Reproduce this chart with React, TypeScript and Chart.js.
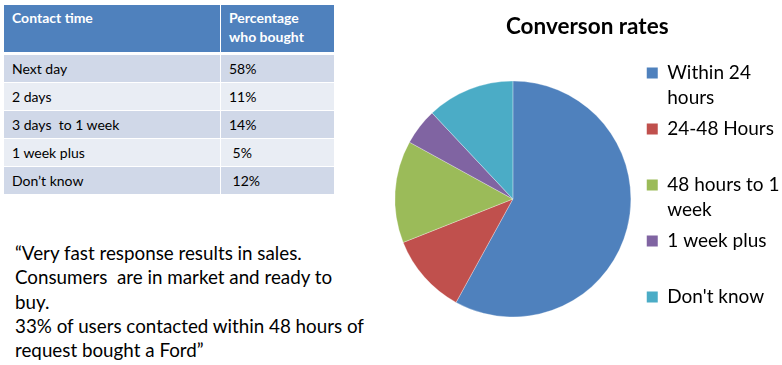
import React, { useEffect, useRef } from "react";
import { Chart, registerables } from "chart.js";

Chart.register(...registerables);

// ---- Data ----
const tableHeaderContact = "Contact time";
const tableHeaderPercent = ["Percentage", "who bought"];
const contactTimes = ["Next day", "2 days", "3 days  to 1 week", "1 week plus", "Don\u2019t know"];
const percentLabels = ["58%", "11%", "14%", " 5%", " 12%"];

const quoteLines = [
  "\u201CVery fast response results in sales.",
  "Consumers  are in market and ready to",
  "buy.",
  "33% of users contacted within 48 hours of",
  "request bought a Ford\u201D",
];

const chartTitle = "Converson rates";
const categories = [
  ["Within 24", "hours"],
  ["24-48 Hours", ""],
  ["48 hours to 1", "week"],
  ["1 week plus", ""],
  ["Don't know"],
];
const values = [58, 11, 14, 5, 12];
const colors = ["#4F81BD", "#C0504D", "#9BBB59", "#8064A2", "#4BACC6"];

const FONT = "Lato, 'Open Sans', sans-serif";

function PieChart() {
  const ref = useRef<HTMLCanvasElement | null>(null);
  useEffect(() => {
    if (!ref.current) return;
    const baseGen =
      ((Chart as any).overrides.pie?.plugins?.legend?.labels?.generateLabels) ||
      (Chart as any).overrides.doughnut.plugins.legend.labels.generateLabels;
    const chart = new Chart(ref.current, {
      type: "pie",
      data: {
        labels: categories as any,
        datasets: [
          {
            data: values,
            backgroundColor: colors,
            borderColor: "rgba(255,255,255,0.6)",
            borderWidth: 0.5,
            radius: 118,
          } as any,
        ],
      },
      options: {
        animation: false,
        responsive: false,
        events: [],
        layout: { padding: { left: 5, right: 0.5, top: 0, bottom: 24.5 } },
        plugins: {
          title: {
            display: true,
            text: chartTitle,
            color: "#000",
            font: { family: FONT, size: 22.5, weight: "bold", lineHeight: 1.2 },
            padding: { top: 13.5, bottom: 17 },
          },
          legend: {
            position: "right",
            align: "start",
            fullSize: false,
            labels: {
              boxWidth: 11,
              boxHeight: 11,
              padding: 6,
              color: "#000",
              font: { family: FONT, size: 19, lineHeight: 25 / 19 },
              generateLabels: (c: any) =>
                baseGen(c).map((it: any) => ({ ...it, lineWidth: 0, strokeStyle: "rgba(0,0,0,0)" })),
            },
          },
          tooltip: { enabled: false },
        },
      } as any,
    });
    return () => chart.destroy();
  }, []);
  return (
    <canvas
      ref={ref}
      width={410}
      height={365}
      style={{ position: "absolute", left: 380, top: 0, width: 410, height: 365 }}
    />
  );
}

export default function App() {
  const cellBase: React.CSSProperties = {
    border: "1px solid #fff",
    padding: "0 0 0 8px",
    fontFamily: FONT,
    fontSize: 14,
    color: "#000",
    whiteSpace: "pre",
    height: 27,
    verticalAlign: "middle",
    textAlign: "left",
  };
  const headCell: React.CSSProperties = {
    ...cellBase,
    background: "#4F81BD",
    color: "#fff",
    fontWeight: "bold",
    verticalAlign: "top",
    height: 44,
    borderBottom: "3px solid #fff",
    lineHeight: "19px",
    paddingTop: 3,
  };
  return (
    <div
      style={{
        position: "absolute",
        left: 0,
        top: 0,
        width: 782,
        height: 365,
        overflow: "hidden",
        background: "#fff",
      }}
    >
      <table
        style={{
          position: "absolute",
          left: 3,
          top: 4,
          width: 331,
          borderCollapse: "collapse",
          tableLayout: "fixed",
        }}
      >
        <colgroup>
          <col style={{ width: 217 }} />
          <col style={{ width: 114 }} />
        </colgroup>
        <thead>
          <tr>
            <th style={headCell}>{tableHeaderContact}</th>
            <th style={headCell}>{tableHeaderPercent.join("\n")}</th>
          </tr>
        </thead>
        <tbody>
          {contactTimes.map((t, i) => (
            <tr key={i}>
              <td style={{ ...cellBase, background: i % 2 === 0 ? "#D0D8E8" : "#E9EDF4" }}>{t}</td>
              <td style={{ ...cellBase, background: i % 2 === 0 ? "#D0D8E8" : "#E9EDF4" }}>
                {percentLabels[i]}
              </td>
            </tr>
          ))}
        </tbody>
      </table>
      <div
        style={{
          position: "absolute",
          left: 15,
          top: 241,
          fontFamily: FONT,
          fontSize: 18.8,
          lineHeight: "24.25px",
          color: "#000",
          whiteSpace: "pre",
        }}
      >
        {quoteLines.map((l, i) => (
          <div key={i}>{l}</div>
        ))}
      </div>
      <PieChart />
    </div>
  );
}
